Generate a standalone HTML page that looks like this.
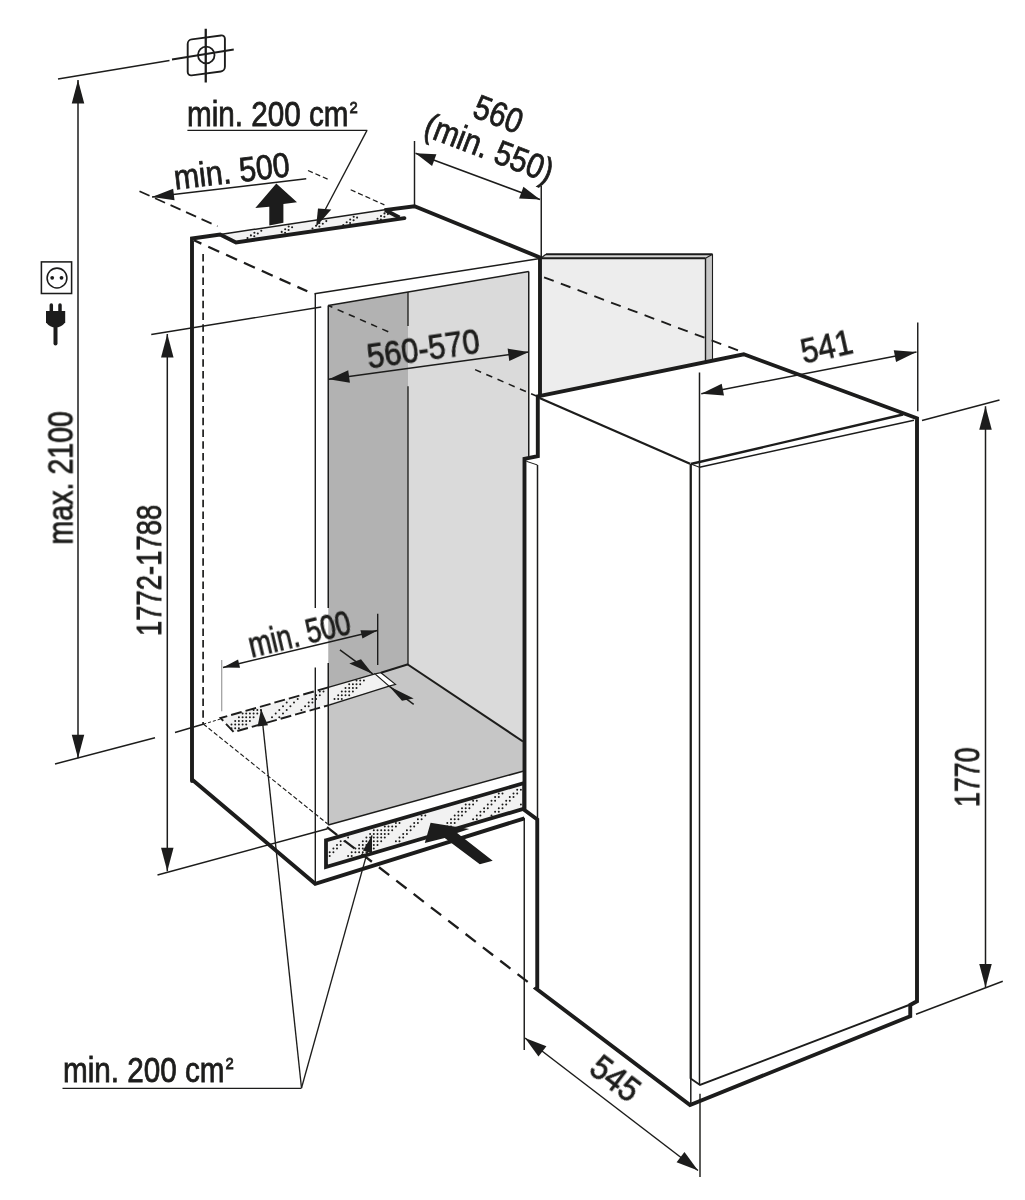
<!DOCTYPE html>
<html><head><meta charset="utf-8"><title>Installation dimensions</title>
<style>
html,body{margin:0;padding:0;background:#fff;}
svg{display:block;}
text{font-family:"Liberation Sans",sans-serif;fill:#1d1d1b;stroke:#1d1d1b;stroke-width:0.75px;vector-effect:non-scaling-stroke;}
</style></head><body>
<svg width="1025" height="1200" viewBox="0 0 1025 1200">
<defs><filter id="soft" filterUnits="userSpaceOnUse" x="0" y="0" width="1025" height="1200"><feGaussianBlur stdDeviation="0.55"/></filter></defs>
<rect width="1025" height="1200" fill="#ffffff"/>
<g filter="url(#soft)">
<rect width="1025" height="1200" fill="#ffffff"/>
<polygon points="328.25,305.5 408,292 408,664.5 328.25,687.6" fill="#b2b2b2" stroke="none" stroke-width="0"/>
<polygon points="408,292 528.75,271.6 528.75,745.4 408,664.5" fill="#dadada" stroke="none" stroke-width="0"/>
<polygon points="328.25,687.4 408,664.5 528.75,745.4 528.75,769.5 328.25,825" fill="#c6c6c6" stroke="none" stroke-width="0"/>
<polygon points="541,258.25 705.5,258.25 705.5,362 541,396" fill="#ededed" stroke="none" stroke-width="0"/>
<polygon points="541,258.25 546,254.25 712.5,254.25 705.5,258.25" fill="#d6d6d6" stroke="none" stroke-width="0"/>
<polygon points="705.5,258.25 712.5,254.25 712.5,359 705.5,362" fill="#c6c6c6" stroke="none" stroke-width="0"/>
<polygon points="220.5,718.0 375,673.9 389.1,686.2 233.75,732" fill="#f2f2f2" stroke="none" stroke-width="0"/>
<polygon points="375,673.9 380.9,672.7 395.5,684.4 389.1,686.2" fill="#ffffff" stroke="none" stroke-width="0"/>
<path d="M231.5,724.6h0M235.2,721.0h0M238.9,717.3h0M242.6,713.6h0M231.5,728.3h0M235.2,724.6h0M238.9,721.0h0M242.6,717.3h0M246.2,713.6h0M235.2,728.3h0M238.9,724.6h0M242.6,721.0h0M246.2,717.3h0M249.9,713.6h0M253.6,709.9h0M238.9,728.3h0M242.6,724.6h0M246.2,721.0h0M249.9,717.3h0M253.6,713.6h0M257.3,709.9h0M246.2,724.6h0M249.9,721.0h0M253.6,717.3h0M257.3,713.6h0M260.9,709.9h0M272.0,717.3h0M275.7,713.6h0M279.3,709.9h0M283.0,706.3h0M286.7,702.6h0M279.3,717.3h0M283.0,713.6h0M286.7,709.9h0M290.4,706.3h0M294.0,702.6h0M297.7,698.9h0M301.4,709.9h0M305.1,706.3h0M308.7,702.6h0M312.4,698.9h0M316.1,695.2h0M319.8,691.6h0M308.7,706.3h0M312.4,702.6h0M316.1,698.9h0M319.8,695.2h0M323.5,691.6h0M334.5,698.9h0M338.2,695.2h0M341.8,691.6h0M345.5,687.9h0M349.2,684.2h0M338.2,698.9h0M341.8,695.2h0M345.5,691.6h0M349.2,687.9h0M352.9,684.2h0M356.5,680.5h0M341.8,698.9h0M345.5,695.2h0M349.2,691.6h0M352.9,687.9h0M356.5,684.2h0M360.2,680.5h0M349.2,695.2h0M352.9,691.6h0M356.5,687.9h0M360.2,684.2h0M363.9,680.5h0" stroke="#1d1d1b" stroke-width="2.0" stroke-linecap="round" fill="none"/>
<path d="M328.25,687.4 L220.5,718.0 L233.75,732 L328.25,705.3" fill="none" stroke="#1d1d1b" stroke-width="1.9" stroke-linejoin="miter" stroke-linecap="butt" stroke-dasharray="11 4"/>
<path d="M328.25,687.4 L375,673.9 M328.25,705.3 L389.1,686.2" fill="none" stroke="#1d1d1b" stroke-width="1.4" stroke-linejoin="miter" stroke-linecap="butt"/>
<path d="M375,673.9 L380.9,672.7 L395.5,684.4 L389.1,686.2 Z" fill="none" stroke="#1d1d1b" stroke-width="1.2" stroke-linejoin="miter" stroke-linecap="butt"/>
<line x1="328.25" y1="305.5" x2="328.25" y2="608" stroke="#1d1d1b" stroke-width="1.5" stroke-linecap="butt"/>
<line x1="328.25" y1="663" x2="328.25" y2="825" stroke="#1d1d1b" stroke-width="1.5" stroke-linecap="butt"/>
<line x1="328.25" y1="305.5" x2="528.75" y2="271.6" stroke="#1d1d1b" stroke-width="1.5" stroke-linecap="butt"/>
<line x1="528.75" y1="271.6" x2="528.75" y2="460" stroke="#1d1d1b" stroke-width="1.5" stroke-linecap="butt"/>
<line x1="408" y1="292" x2="408" y2="326" stroke="#1d1d1b" stroke-width="1.35" stroke-linecap="butt"/>
<line x1="408" y1="386.25" x2="408" y2="665" stroke="#1d1d1b" stroke-width="1.35" stroke-linecap="butt"/>
<line x1="380.9" y1="672.7" x2="408.2" y2="664.3" stroke="#1d1d1b" stroke-width="2.0" stroke-linecap="butt"/>
<line x1="407.8" y1="664.5" x2="523" y2="741.5" stroke="#1d1d1b" stroke-width="2.1" stroke-linecap="butt"/>
<line x1="328.25" y1="825" x2="523" y2="771.25" stroke="#1d1d1b" stroke-width="1.5" stroke-linecap="butt"/>
<line x1="328.25" y1="305.5" x2="390" y2="332.5" stroke="#1d1d1b" stroke-width="1.55" stroke-linecap="butt" stroke-dasharray="6.5 5.7" stroke-dashoffset="2"/>
<line x1="475.1" y1="369.6" x2="537" y2="396.3" stroke="#1d1d1b" stroke-width="1.55" stroke-linecap="butt" stroke-dasharray="6.5 5.7"/>
<line x1="314.5" y1="293.75" x2="540" y2="258.5" stroke="#1d1d1b" stroke-width="1.5" stroke-linecap="butt"/>
<line x1="315.3" y1="293.75" x2="315.3" y2="608" stroke="#1d1d1b" stroke-width="1.4" stroke-linecap="butt"/>
<line x1="315.3" y1="667.6" x2="315.3" y2="883.5" stroke="#1d1d1b" stroke-width="1.4" stroke-linecap="butt"/>
<line x1="203.1" y1="253" x2="203.1" y2="724" stroke="#1d1d1b" stroke-width="1.7" stroke-linecap="butt" stroke-dasharray="7.5 4.2" stroke-dashoffset="-1"/>
<line x1="193.9" y1="240.3" x2="307.3" y2="291.3" stroke="#1d1d1b" stroke-width="2.3" stroke-linecap="butt" stroke-dasharray="12 7.55" stroke-dashoffset="3.8"/>
<line x1="203.3" y1="724" x2="327.5" y2="823.75" stroke="#1d1d1b" stroke-width="1.15" stroke-linecap="butt" stroke-dasharray="4.5 2.3"/>
<line x1="203.3" y1="724.2" x2="220.5" y2="719" stroke="#1d1d1b" stroke-width="1.0" stroke-linecap="butt" stroke-dasharray="3 2"/>
<polygon points="220.1,234.5 386.4,209.5 404,218.5 236,242.4" fill="#f2f2f2" stroke="none" stroke-width="0"/>
<path d="M247.5,238.1h0M250.9,235.4h0M254.4,232.7h0M254.3,236.2h0M257.8,233.5h0M261.3,230.8h0M281.7,231.9h0M285.2,229.2h0M288.7,226.5h0M285.1,232.7h0M288.6,230.0h0M292.1,227.3h0M312.5,228.5h0M316.0,225.7h0M319.4,223.0h0M319.4,226.5h0M322.8,223.8h0M326.3,221.1h0M343.3,225.0h0M346.7,222.3h0M350.2,219.5h0M353.7,216.8h0M350.1,223.0h0M353.6,220.3h0M357.1,217.6h0M377.5,218.8h0M381.0,216.1h0M384.5,213.4h0M380.9,219.5h0M384.4,216.8h0M387.9,214.1h0" stroke="#1d1d1b" stroke-width="2.1" stroke-linecap="round" fill="none"/>
<line x1="220.1" y1="234.5" x2="386.4" y2="209.5" stroke="#1d1d1b" stroke-width="1.5" stroke-linecap="butt"/>
<path d="M192,781 L192,238.5 L220.1,234.5 L236,242.4 L404.4,218.1" fill="none" stroke="#1d1d1b" stroke-width="3.9" stroke-linejoin="miter" stroke-linecap="round"/>
<path d="M385.5,210.3 L399.5,217.6" fill="none" stroke="#1d1d1b" stroke-width="3.9" stroke-linejoin="miter" stroke-linecap="butt"/>
<path d="M384.4,210.1 L414.5,206.25 L540,257.5 L540,396" fill="none" stroke="#1d1d1b" stroke-width="3.9" stroke-linejoin="miter" stroke-linecap="butt"/>
<path d="M192,779.5 L315.2,883.75 L524.5,818.3" fill="none" stroke="#1d1d1b" stroke-width="3.9" stroke-linejoin="miter" stroke-linecap="butt"/>
<line x1="139.5" y1="191.25" x2="217.5" y2="226.25" stroke="#1d1d1b" stroke-width="1.75" stroke-linecap="butt" stroke-dasharray="11 6"/>
<line x1="308" y1="170.5" x2="327.9" y2="179.2" stroke="#1d1d1b" stroke-width="1.25" stroke-linecap="butt" stroke-dasharray="5.2 2.9"/>
<line x1="350.7" y1="189.8" x2="384.4" y2="204.9" stroke="#1d1d1b" stroke-width="1.25" stroke-linecap="butt" stroke-dasharray="5.2 2.9"/>
<polygon points="326,840.3 524.3,783 524.3,808.6 326,867" fill="#f2f2f2" stroke="none" stroke-width="0"/>
<path d="M329.7,852.3h0M333.4,848.6h0M337.0,844.9h0M340.7,841.3h0M329.7,856.0h0M333.4,852.3h0M337.0,848.6h0M340.7,844.9h0M344.4,841.3h0M348.1,837.6h0M348.1,856.0h0M351.7,852.3h0M355.4,848.6h0M359.1,844.9h0M362.8,841.3h0M366.4,837.6h0M370.1,833.9h0M373.8,830.2h0M351.7,856.0h0M355.4,852.3h0M359.1,848.6h0M362.8,844.9h0M366.4,841.3h0M370.1,837.6h0M373.8,833.9h0M377.5,830.2h0M359.1,852.3h0M362.8,848.6h0M366.4,844.9h0M370.1,841.3h0M373.8,837.6h0M377.5,833.9h0M381.2,830.2h0M384.8,826.6h0M362.8,852.3h0M366.4,848.6h0M370.1,844.9h0M373.8,841.3h0M377.5,837.6h0M381.2,833.9h0M384.8,830.2h0M388.5,826.6h0M366.4,852.3h0M370.1,848.6h0M373.8,844.9h0M377.5,841.3h0M381.2,837.6h0M384.8,833.9h0M388.5,830.2h0M392.2,826.6h0M395.9,822.9h0M373.8,848.6h0M377.5,844.9h0M381.2,841.3h0M384.8,837.6h0M388.5,833.9h0M392.2,830.2h0M395.9,826.6h0M399.5,822.9h0M395.9,841.3h0M399.5,837.6h0M403.2,833.9h0M406.9,830.2h0M410.6,826.6h0M414.2,822.9h0M417.9,819.2h0M421.6,815.5h0M399.5,841.3h0M403.2,837.6h0M406.9,833.9h0M410.6,830.2h0M414.2,826.6h0M417.9,822.9h0M421.6,819.2h0M425.3,815.5h0M440.0,830.2h0M443.7,826.6h0M447.3,822.9h0M451.0,819.2h0M454.7,815.5h0M458.4,811.8h0M462.0,808.2h0M465.7,804.5h0M447.3,826.6h0M451.0,822.9h0M454.7,819.2h0M458.4,815.5h0M462.0,811.8h0M465.7,808.2h0M469.4,804.5h0M473.1,800.8h0M451.0,826.6h0M454.7,822.9h0M458.4,819.2h0M462.0,815.5h0M465.7,811.8h0M469.4,808.2h0M473.1,804.5h0M476.8,800.8h0M473.1,819.2h0M476.8,815.5h0M480.4,811.8h0M484.1,808.2h0M487.8,804.5h0M491.5,800.8h0M495.1,797.1h0M498.8,793.5h0M476.8,819.2h0M480.4,815.5h0M484.1,811.8h0M487.8,808.2h0M491.5,804.5h0M495.1,800.8h0M498.8,797.1h0M502.5,793.5h0M491.5,815.5h0M495.1,811.8h0M498.8,808.2h0M502.5,804.5h0M506.2,800.8h0M509.8,797.1h0M513.5,793.5h0M517.2,789.8h0M498.8,811.8h0M502.5,808.2h0M506.2,804.5h0M509.8,800.8h0M513.5,797.1h0M517.2,793.5h0M520.9,789.8h0M520.9,804.5h0" stroke="#1d1d1b" stroke-width="2.0" stroke-linecap="round" fill="none"/>
<path d="M326,840.3 L524.3,783 L524.3,808.6 L326,867 Z" fill="none" stroke="#1d1d1b" stroke-width="3.8" stroke-linejoin="miter" stroke-linecap="butt"/>
<line x1="327" y1="827.2" x2="527.7" y2="981.9" stroke="#1d1d1b" stroke-width="2.3" stroke-linecap="butt" stroke-dasharray="12.9 8.97"/>
<line x1="546" y1="254.25" x2="712.5" y2="254.25" stroke="#1d1d1b" stroke-width="2.0" stroke-linecap="butt"/>
<line x1="541" y1="258.25" x2="705.5" y2="258.25" stroke="#1d1d1b" stroke-width="1.8" stroke-linecap="butt"/>
<line x1="541" y1="258" x2="546" y2="254.25" stroke="#1d1d1b" stroke-width="1.3" stroke-linecap="butt"/>
<line x1="712.5" y1="254.25" x2="712.5" y2="359" stroke="#1d1d1b" stroke-width="1.1" stroke-linecap="butt"/>
<line x1="705.5" y1="258.25" x2="705.5" y2="362" stroke="#1d1d1b" stroke-width="1.4" stroke-linecap="butt"/>
<line x1="705.5" y1="258.25" x2="712.5" y2="254.25" stroke="#1d1d1b" stroke-width="1.1" stroke-linecap="butt"/>
<line x1="541.25" y1="276.25" x2="743.75" y2="352.5" stroke="#1d1d1b" stroke-width="1.9" stroke-linecap="butt" stroke-dasharray="10.3 7.6" stroke-dashoffset="-3"/>
<polygon points="538.75,396.25 743.75,354.25 917,418.25 917,1001.25 910.25,1005 910.25,1016.25 690,1105 535.5,988 537.25,987.5 537.25,818.75 524.5,810 524.5,458.75 538,456.25" fill="#ffffff" stroke="none" stroke-width="0"/>
<line x1="539.5" y1="398" x2="690" y2="463.75" stroke="#1d1d1b" stroke-width="2.2" stroke-linecap="butt"/>
<line x1="690.75" y1="464" x2="903" y2="414.5" stroke="#1d1d1b" stroke-width="2.4" stroke-linecap="butt"/>
<line x1="699.5" y1="467.2" x2="914" y2="420.3" stroke="#1d1d1b" stroke-width="1.5" stroke-linecap="butt"/>
<line x1="690.75" y1="464" x2="699.5" y2="467.2" stroke="#1d1d1b" stroke-width="1.1" stroke-linecap="butt"/>
<line x1="690.75" y1="464" x2="690.75" y2="1078.75" stroke="#1d1d1b" stroke-width="2.3" stroke-linecap="butt"/>
<line x1="699.5" y1="372.5" x2="699.5" y2="1085" stroke="#1d1d1b" stroke-width="1.5" stroke-linecap="butt"/>
<path d="M691,1078.75 L700,1085 L909,1005" fill="none" stroke="#1d1d1b" stroke-width="1.9" stroke-linejoin="miter" stroke-linecap="butt"/>
<line x1="690.8" y1="1078" x2="690.8" y2="1105" stroke="#1d1d1b" stroke-width="1.5" stroke-linecap="butt"/>
<line x1="526.25" y1="461.25" x2="537.5" y2="465" stroke="#1d1d1b" stroke-width="1.0" stroke-linecap="butt"/>
<line x1="537.5" y1="465" x2="537.5" y2="818" stroke="#1d1d1b" stroke-width="1.5" stroke-linecap="butt"/>
<path d="M537.8,396.4 L743.75,354.25 L917,418.25 L917,1001.25 L910.25,1005 L910.25,1016.25 L690,1105 L536,988.5 L537.25,987.5 L537.25,819.5 L524.5,810 L524.5,458.75 L537.8,456.25 Z" fill="none" stroke="#1d1d1b" stroke-width="3.9" stroke-linejoin="miter" stroke-linecap="butt"/>
<line x1="58" y1="79" x2="169.5" y2="60.5" stroke="#1d1d1b" stroke-width="1.5" stroke-linecap="butt"/>
<line x1="172" y1="59.5" x2="233.75" y2="49.5" stroke="#1d1d1b" stroke-width="1.8" stroke-linecap="butt"/>
<line x1="205.75" y1="28.75" x2="205.75" y2="82.5" stroke="#1d1d1b" stroke-width="2.3" stroke-linecap="butt"/>
<rect x="-18.6" y="-18" width="37.2" height="36" rx="4" fill="none" stroke="#1d1d1b" stroke-width="1.9" transform="translate(206.3,55.4) skewY(-7.6)"/>
<circle cx="206.25" cy="55" r="8.3" fill="none" stroke="#1d1d1b" stroke-width="1.8"/>
<line x1="78" y1="80" x2="78" y2="758.2" stroke="#1d1d1b" stroke-width="1.5" stroke-linecap="butt"/>
<polygon points="78,80 84.25,103.5 71.75,103.5" fill="#1d1d1b" stroke="none" stroke-width="0"/>
<polygon points="78,758.2 71.75,734.7 84.25,734.7" fill="#1d1d1b" stroke="none" stroke-width="0"/>
<line x1="55" y1="764" x2="155" y2="737.7" stroke="#1d1d1b" stroke-width="1.45" stroke-linecap="butt"/>
<line x1="175" y1="732.5" x2="203" y2="724.25" stroke="#1d1d1b" stroke-width="1.45" stroke-linecap="butt"/>
<rect x="41.4" y="261.9" width="30.2" height="31.6" fill="none" stroke="#1d1d1b" stroke-width="1.55"/>
<circle cx="57" cy="278" r="9.9" fill="none" stroke="#1d1d1b" stroke-width="1.55"/>
<circle cx="52.2" cy="277.8" r="1.9" fill="#1d1d1b"/><circle cx="61.5" cy="277.8" r="1.9" fill="#1d1d1b"/>
<line x1="51.3" y1="305" x2="51.3" y2="313" stroke="#1d1d1b" stroke-width="3.5" stroke-linecap="round"/>
<line x1="60" y1="305" x2="60" y2="313" stroke="#1d1d1b" stroke-width="3.5" stroke-linecap="round"/>
<path d="M46,311 H65.2 V322.5 Q61,327.6 55.6,327.6 Q50,327.6 46,322.5 Z" fill="#1d1d1b"/>
<line x1="55.5" y1="326" x2="55.5" y2="343.6" stroke="#1d1d1b" stroke-width="4" stroke-linecap="round"/>
<line x1="167.3" y1="334" x2="167.3" y2="871.2" stroke="#1d1d1b" stroke-width="1.5" stroke-linecap="butt"/>
<polygon points="167.3,334 173.55,357.5 161.05,357.5" fill="#1d1d1b" stroke="none" stroke-width="0"/>
<polygon points="167.3,871.2 161.05,847.7 173.55,847.7" fill="#1d1d1b" stroke="none" stroke-width="0"/>
<line x1="151.25" y1="334.5" x2="321.25" y2="307" stroke="#1d1d1b" stroke-width="1.45" stroke-linecap="butt"/>
<line x1="157.5" y1="875" x2="327.5" y2="828.75" stroke="#1d1d1b" stroke-width="1.45" stroke-linecap="butt"/>
<line x1="414.5" y1="141" x2="414.5" y2="206" stroke="#1d1d1b" stroke-width="1.45" stroke-linecap="butt"/>
<line x1="541.25" y1="186" x2="541.25" y2="257.5" stroke="#1d1d1b" stroke-width="1.45" stroke-linecap="butt"/>
<line x1="415.5" y1="153.25" x2="540" y2="199.5" stroke="#1d1d1b" stroke-width="1.5" stroke-linecap="butt"/>
<polygon points="415.5,153.25 436.42,154.36 432.07,166.07" fill="#1d1d1b" stroke="none" stroke-width="0"/>
<polygon points="540,199.5 519.08,198.39 523.43,186.68" fill="#1d1d1b" stroke="none" stroke-width="0"/>
<line x1="328.75" y1="379.25" x2="528.75" y2="352" stroke="#1d1d1b" stroke-width="1.5" stroke-linecap="butt"/>
<polygon points="328.75,379.25 348.22,370.29 349.91,382.68" fill="#1d1d1b" stroke="none" stroke-width="0"/>
<polygon points="528.75,352 509.28,360.96 507.59,348.57" fill="#1d1d1b" stroke="none" stroke-width="0"/>
<line x1="917.75" y1="322.5" x2="917.75" y2="411.25" stroke="#1d1d1b" stroke-width="1.45" stroke-linecap="butt"/>
<line x1="701.25" y1="393.75" x2="916.5" y2="352" stroke="#1d1d1b" stroke-width="1.5" stroke-linecap="butt"/>
<polygon points="701.25,393.75 721.71,383.67 723.99,395.45" fill="#1d1d1b" stroke="none" stroke-width="0"/>
<polygon points="916.5,352 896.04,362.08 893.76,350.3" fill="#1d1d1b" stroke="none" stroke-width="0"/>
<line x1="985.5" y1="406.25" x2="985.5" y2="987.5" stroke="#1d1d1b" stroke-width="1.5" stroke-linecap="butt"/>
<polygon points="985.5,406.25 991.75,429.75 979.25,429.75" fill="#1d1d1b" stroke="none" stroke-width="0"/>
<polygon points="985.5,987.5 979.25,964.0 991.75,964.0" fill="#1d1d1b" stroke="none" stroke-width="0"/>
<line x1="922" y1="420.5" x2="999.5" y2="400" stroke="#1d1d1b" stroke-width="1.45" stroke-linecap="butt"/>
<line x1="916" y1="1014.25" x2="1002.75" y2="981.25" stroke="#1d1d1b" stroke-width="1.45" stroke-linecap="butt"/>
<line x1="524.25" y1="818" x2="524.25" y2="1050" stroke="#1d1d1b" stroke-width="1.45" stroke-linecap="butt"/>
<line x1="700" y1="1093.75" x2="700" y2="1177" stroke="#1d1d1b" stroke-width="1.45" stroke-linecap="butt"/>
<line x1="525" y1="1038" x2="698" y2="1170.5" stroke="#1d1d1b" stroke-width="1.5" stroke-linecap="butt"/>
<polygon points="525,1038 546.42,1046.22 538.51,1056.54" fill="#1d1d1b" stroke="none" stroke-width="0"/>
<polygon points="698,1170.5 676.58,1162.28 684.49,1151.96" fill="#1d1d1b" stroke="none" stroke-width="0"/>
<line x1="152" y1="197" x2="306.25" y2="178.75" stroke="#1d1d1b" stroke-width="1.5" stroke-linecap="butt"/>
<polygon points="152,197 173.17,188.7 174.52,200.13" fill="#1d1d1b" stroke="none" stroke-width="0"/>
<line x1="221.75" y1="660" x2="221.75" y2="711.25" stroke="#555" stroke-width="0.7" stroke-linecap="butt"/>
<line x1="377.7" y1="613.75" x2="377.7" y2="665.1" stroke="#1d1d1b" stroke-width="1.4" stroke-linecap="butt"/>
<line x1="223" y1="667.5" x2="377.5" y2="630.5" stroke="#1d1d1b" stroke-width="1.5" stroke-linecap="butt"/>
<polygon points="223,667.5 238.06,659.52 240.04,667.79" fill="#1d1d1b" stroke="none" stroke-width="0"/>
<polygon points="377.5,630.5 362.44,638.48 360.46,630.21" fill="#1d1d1b" stroke="none" stroke-width="0"/>
<line x1="339.9" y1="649.9" x2="372.7" y2="673.9" stroke="#1d1d1b" stroke-width="1.45" stroke-linecap="butt"/>
<polygon points="372.7,673.9 349.3,663.4 361,659.3" fill="#1d1d1b" stroke="none" stroke-width="0"/>
<line x1="413.7" y1="704.4" x2="389.1" y2="686.2" stroke="#1d1d1b" stroke-width="1.45" stroke-linecap="butt"/>
<polygon points="389.1,686.2 402,700.8 413.7,698.5" fill="#1d1d1b" stroke="none" stroke-width="0"/>
<line x1="187.4" y1="130.4" x2="367.3" y2="130.4" stroke="#1d1d1b" stroke-width="1.35" stroke-linecap="butt"/>
<line x1="367" y1="130.4" x2="320" y2="219.5" stroke="#1d1d1b" stroke-width="1.35" stroke-linecap="butt"/>
<polygon points="316.1,226.7 318.0,208.6 331.3,209.6" fill="#1d1d1b" stroke="none" stroke-width="0"/>
<line x1="62.5" y1="1088.3" x2="301.5" y2="1088.3" stroke="#1d1d1b" stroke-width="1.35" stroke-linecap="butt"/>
<line x1="301.5" y1="1088" x2="261.2" y2="709.6" stroke="#1d1d1b" stroke-width="1.35" stroke-linecap="butt"/>
<polygon points="261.0,709.2 268.01,725.35 257.57,726.46" fill="#1d1d1b" stroke="none" stroke-width="0"/>
<line x1="301.5" y1="1088" x2="372" y2="835.4" stroke="#1d1d1b" stroke-width="1.35" stroke-linecap="butt"/>
<polygon points="372,835.4 372.01,853.05 362.85,850.5" fill="#1d1d1b" stroke="none" stroke-width="0"/>
<polygon points="276.3,183.4 297,202.2 283.4,204 283.4,222.8 269.3,225.6 269.3,206.8 255.3,208" fill="#1d1d1b" stroke="none" stroke-width="0"/>
<polygon points="430.6,822.8 469.3,829.1 457.1,833.1 492.7,860.7 479.8,864.2 444.7,838 424.8,843.1" fill="#1d1d1b" stroke="none" stroke-width="0"/>
<g style="will-change:transform">
<text transform="translate(187.0,125.7) rotate(0) scale(0.86,1)" font-size="34.5" text-anchor="start" dy="0">min. 200 cm<tspan font-size="27" dy="-4.5" dx="1.5">²</tspan></text>
<text transform="translate(63.0,1081.5) rotate(0) scale(0.86,1)" font-size="34.5" text-anchor="start" dy="0">min. 200 cm<tspan font-size="27" dy="-4.5" dx="1.5">²</tspan></text>
<text transform="translate(175.2,189.5) rotate(-6.6) scale(0.88,1)" font-size="34.5" text-anchor="start" dy="0">min. 500</text>
<text transform="translate(251.7,657.5) rotate(-13.4) scale(0.785,1)" font-size="34.5" text-anchor="start" dy="0">min. 500</text>
<text transform="translate(72.4,544.5) rotate(-90) scale(0.805,1)" font-size="35.5" text-anchor="start" dy="0">max. 2100</text>
<text transform="translate(161.0,636) rotate(-90) scale(0.78,1)" font-size="35.2" text-anchor="start" dy="0">1772-1788</text>
<text transform="translate(979.1,807) rotate(-90) scale(0.775,1)" font-size="34.5" text-anchor="start" dy="0">1770</text>
<text transform="translate(423.5,350.7) rotate(-8.2) scale(0.895,1)" font-size="34.5" text-anchor="middle" dy="10">560-570</text>
<text transform="translate(498.5,114) rotate(21) scale(0.86,1)" font-size="34.5" text-anchor="middle" dy="12">560</text>
<text transform="translate(489.3,147.8) rotate(21) scale(0.87,1)" font-size="34.5" text-anchor="middle" dy="12">(min. 550)</text>
<text transform="translate(826.5,346.5) rotate(-12.5) scale(0.9,1)" font-size="34.5" text-anchor="middle" dy="12">541</text>
<text transform="translate(615.5,1078.5) rotate(37.5) scale(0.91,1)" font-size="34.5" text-anchor="middle" dy="12">545</text>
</g>
</g>
</svg>
</body></html>
